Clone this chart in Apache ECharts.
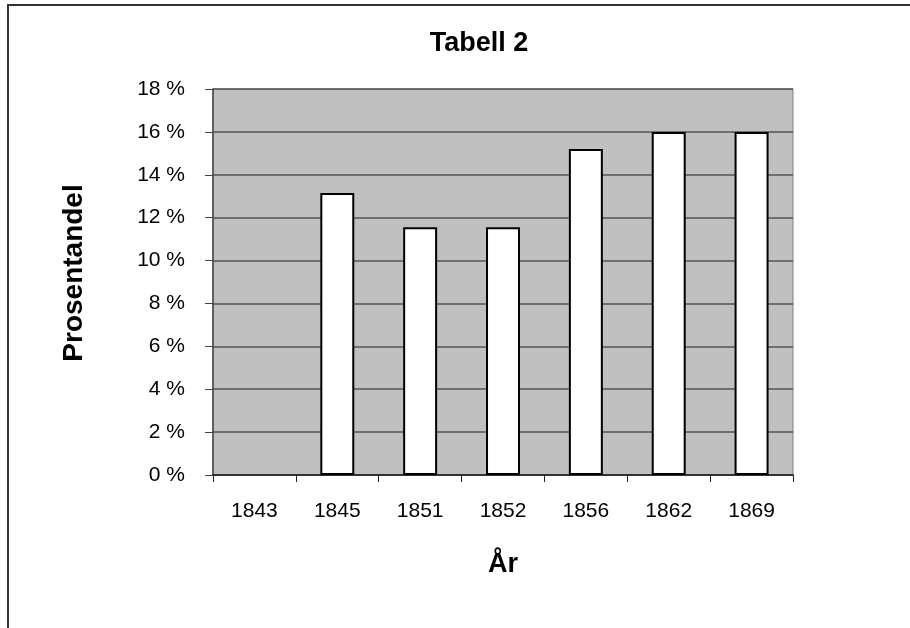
<!DOCTYPE html>
<html>
<head>
<meta charset="utf-8">
<script src="https://cdn.jsdelivr.net/npm/echarts@6/dist/echarts.min.js"></script>
<style>
html,body{margin:0;padding:0;background:#fff;}
#main{width:910px;height:628px;}
</style>
</head>
<body>
<div id="main"></div>
<script>
const categories = ['1843', '1845', '1851', '1852', '1856', '1862', '1869'];
const values = [0, 13.15, 11.55, 11.55, 15.2, 16.0, 16.0];
const yTicks = [0, 2, 4, 6, 8, 10, 12, 14, 16, 18];

const chart = echarts.init(document.getElementById('main'));
const font = 'Arial, "Liberation Sans", sans-serif';
chart.setOption({
  animation: false,
  backgroundColor: '#fff',
  graphic: [{
    type: 'rect',
    shape: { x: 8, y: 5, width: 1200, height: 1000 },
    style: { fill: 'none', stroke: '#333', lineWidth: 2 },
    silent: true
  }],
  title: {
    text: 'Tabell 2',
    left: 474, top: 25, textAlign: 'center',
    textStyle: { fontFamily: font, fontSize: 27, fontWeight: 'bold', color: '#000' }
  },
  grid: {
    left: 213, top: 89, width: 580, height: 386,
    show: true, backgroundColor: '#c0c0c0', borderColor: '#808080', borderWidth: 1
  },
  xAxis: {
    type: 'category',
    data: categories,
    boundaryGap: true,
    name: 'År',
    nameLocation: 'middle',
    nameGap: 76,
    nameTextStyle: { fontFamily: font, fontSize: 27, fontWeight: 'bold', color: '#000' },
    axisLine: { lineStyle: { color: '#222', width: 1.5 } },
    axisTick: { show: true, length: 7, lineStyle: { color: '#222' } },
    axisLabel: { margin: 26, fontFamily: font, fontSize: 21, color: '#000' }
  },
  yAxis: {
    type: 'value',
    min: 0, max: 18, interval: 2,
    name: 'Prosentandel',
    nameLocation: 'middle',
    nameGap: 125,
    nameRotate: 90,
    nameTextStyle: { fontFamily: font, fontSize: 28, fontWeight: 'bold', color: '#000', padding: [0, 0, 0, 18] },
    axisLine: { show: true, lineStyle: { color: '#444', width: 1.5 } },
    axisTick: { show: true, length: 8, lineStyle: { color: '#444' } },
    axisLabel: {
      margin: 28, fontFamily: font, fontSize: 21, color: '#000',
      formatter: v => yTicks.includes(v) ? v + ' %' : ''
    },
    splitLine: { show: true, lineStyle: { color: '#555', width: 1.5 } }
  },
  series: [{
    type: 'bar',
    data: values.map(v => v === 0
      ? { value: v, itemStyle: { color: 'transparent', borderWidth: 0 } }
      : v),
    barWidth: '41%',
    itemStyle: { color: '#fff', borderColor: '#000', borderWidth: 2 }
  }]
});
</script>
</body>
</html>
